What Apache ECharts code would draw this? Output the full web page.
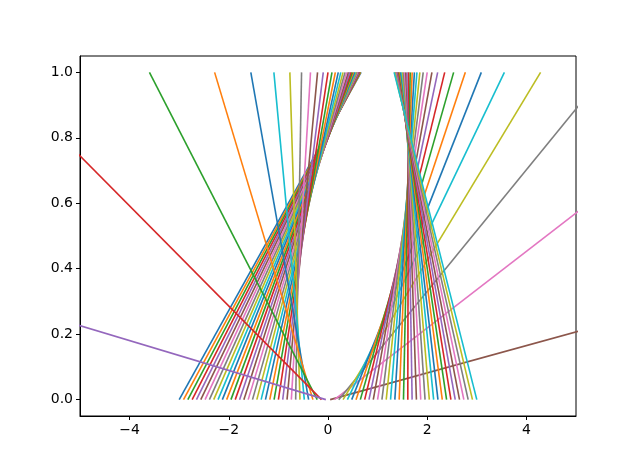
<!DOCTYPE html>
<html>
<head>
<meta charset="utf-8">
<script src="https://cdn.jsdelivr.net/npm/echarts@6/dist/echarts.min.js"></script>
<style>
  html, body { margin: 0; padding: 0; background: #fff; }
  #chart { width: 640px; height: 468px; }
</style>
</head>
<body>
<div id="chart"></div>
<script>
// x where each line starts (y = 0)
const startX = [
  -3.000, -2.913, -2.826, -2.739, -2.652, -2.565, -2.478, -2.391, -2.304, -2.217,
  -2.130, -2.043, -1.957, -1.870, -1.783, -1.696, -1.609, -1.522, -1.435, -1.348,
  -1.261, -1.174, -1.087, -1.000, -0.913, -0.826, -0.739, -0.652, -0.565, -0.478,
  -0.391, -0.304, -0.217, -0.130, -0.0435, 0.0435, 0.130, 0.217, 0.304, 0.391,
  0.478, 0.565, 0.652, 0.739, 0.826, 0.913, 1.000, 1.087, 1.174, 1.261,
  1.348, 1.435, 1.522, 1.609, 1.696, 1.783, 1.870, 1.957, 2.043, 2.130,
  2.217, 2.304, 2.391, 2.478, 2.565, 2.652, 2.739, 2.826, 2.913, 3.000
];
// x where each line ends (y = 1)
const endX = [
  0.667, 0.657, 0.646, 0.635, 0.623, 0.610, 0.596, 0.582, 0.566, 0.549,
  0.531, 0.511, 0.489, 0.465, 0.439, 0.410, 0.378, 0.343, 0.303, 0.258,
  0.207, 0.148, 0.080, 0.000, -0.095, -0.211, -0.353, -0.533, -0.769, -1.091,
  -1.556, -2.286, -3.600, -6.667, -22.000, 24.000, 8.667, 5.600, 4.286, 3.556,
  3.091, 2.769, 2.533, 2.353, 2.211, 2.095, 2.000, 1.920, 1.852, 1.793,
  1.742, 1.697, 1.657, 1.622, 1.590, 1.561, 1.535, 1.511, 1.489, 1.469,
  1.451, 1.434, 1.418, 1.404, 1.390, 1.377, 1.365, 1.354, 1.343, 1.333
];
const yStart = 0;
const yEnd = 1;
const xTicks = [-4, -2, 0, 2, 4];
const yTicks = [0, 0.2, 0.4, 0.6, 0.8, 1.0];

const colors = ['#1f77b4', '#ff7f0e', '#2ca02c', '#d62728', '#9467bd',
                '#8c564b', '#e377c2', '#7f7f7f', '#bcbd22', '#17becf'];

const chart = echarts.init(document.getElementById('chart'), null, { renderer: 'canvas' });

const series = startX.map((x0, i) => ({
  type: 'line',
  data: [[x0, yStart], [endX[i], yEnd]],
  showSymbol: false,
  symbol: 'none',
  clip: true,
  lineStyle: { color: colors[i % 10], width: 1.6 }
}));

const minus = v => String(v).replace('-', '\u2212');

chart.setOption({
  animation: false,
  grid: {
    left: 80, right: 64, top: 56, bottom: 52,
    show: true, borderColor: '#000', borderWidth: 1, backgroundColor: 'transparent'
  },
  xAxis: {
    type: 'value', min: -5, max: 5,
    axisLine: { show: true, onZero: false, lineStyle: { color: '#000', width: 1 } },
    axisTick: { show: true, length: 4, customValues: xTicks, lineStyle: { color: '#000' } },
    axisLabel: {
      customValues: xTicks, margin: 7, color: '#000',
      fontFamily: 'DejaVu Sans', fontSize: 14,
      formatter: v => minus(v)
    },
    splitLine: { show: false }
  },
  yAxis: {
    type: 'value', min: -0.05, max: 1.05,
    axisLine: { show: true, onZero: false, lineStyle: { color: '#000', width: 1 } },
    axisTick: { show: true, length: 4, customValues: yTicks, lineStyle: { color: '#000' } },
    axisLabel: {
      customValues: yTicks, margin: 7, color: '#000',
      fontFamily: 'DejaVu Sans', fontSize: 14,
      formatter: v => v.toFixed(1)
    },
    splitLine: { show: false }
  },
  series: series
});
</script>
</body>
</html>
